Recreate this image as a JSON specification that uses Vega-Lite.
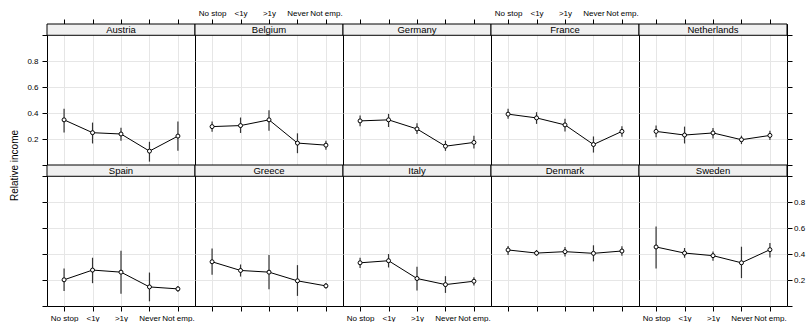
{
  "$schema": "https://vega.github.io/schema/vega-lite/v6.json",
  "padding": {"left": 8, "top": 8, "right": 0, "bottom": 0},
  "background": "white",
  "datasets": {
    "d": [
      {"country": "Austria", "cat": "No stop", "val": 0.348, "lo": 0.251, "hi": 0.433},
      {"country": "Austria", "cat": "<1y", "val": 0.249, "lo": 0.166, "hi": 0.327},
      {"country": "Austria", "cat": ">1y", "val": 0.239, "lo": 0.187, "hi": 0.288},
      {"country": "Austria", "cat": "Never", "val": 0.107, "lo": 0.026, "hi": 0.179},
      {"country": "Austria", "cat": "Not emp.", "val": 0.223, "lo": 0.109, "hi": 0.335},
      {"country": "Belgium", "cat": "No stop", "val": 0.296, "lo": 0.257, "hi": 0.335},
      {"country": "Belgium", "cat": "<1y", "val": 0.304, "lo": 0.247, "hi": 0.366},
      {"country": "Belgium", "cat": ">1y", "val": 0.348, "lo": 0.265, "hi": 0.423},
      {"country": "Belgium", "cat": "Never", "val": 0.169, "lo": 0.091, "hi": 0.244},
      {"country": "Belgium", "cat": "Not emp.", "val": 0.153, "lo": 0.117, "hi": 0.187},
      {"country": "Germany", "cat": "No stop", "val": 0.340, "lo": 0.298, "hi": 0.381},
      {"country": "Germany", "cat": "<1y", "val": 0.348, "lo": 0.293, "hi": 0.394},
      {"country": "Germany", "cat": ">1y", "val": 0.278, "lo": 0.239, "hi": 0.322},
      {"country": "Germany", "cat": "Never", "val": 0.145, "lo": 0.109, "hi": 0.187},
      {"country": "Germany", "cat": "Not emp.", "val": 0.174, "lo": 0.127, "hi": 0.226},
      {"country": "France", "cat": "No stop", "val": 0.392, "lo": 0.356, "hi": 0.433},
      {"country": "France", "cat": "<1y", "val": 0.363, "lo": 0.317, "hi": 0.407},
      {"country": "France", "cat": ">1y", "val": 0.309, "lo": 0.259, "hi": 0.356},
      {"country": "France", "cat": "Never", "val": 0.158, "lo": 0.096, "hi": 0.220},
      {"country": "France", "cat": "Not emp.", "val": 0.259, "lo": 0.218, "hi": 0.298},
      {"country": "Netherlands", "cat": "No stop", "val": 0.259, "lo": 0.213, "hi": 0.304},
      {"country": "Netherlands", "cat": "<1y", "val": 0.231, "lo": 0.166, "hi": 0.296},
      {"country": "Netherlands", "cat": ">1y", "val": 0.247, "lo": 0.205, "hi": 0.286},
      {"country": "Netherlands", "cat": "Never", "val": 0.195, "lo": 0.161, "hi": 0.226},
      {"country": "Netherlands", "cat": "Not emp.", "val": 0.228, "lo": 0.192, "hi": 0.265},
      {"country": "Spain", "cat": "No stop", "val": 0.202, "lo": 0.116, "hi": 0.289},
      {"country": "Spain", "cat": "<1y", "val": 0.277, "lo": 0.176, "hi": 0.372},
      {"country": "Spain", "cat": ">1y", "val": 0.261, "lo": 0.095, "hi": 0.426},
      {"country": "Spain", "cat": "Never", "val": 0.147, "lo": 0.036, "hi": 0.258},
      {"country": "Spain", "cat": "Not emp.", "val": 0.132, "lo": 0.109, "hi": 0.155},
      {"country": "Greece", "cat": "No stop", "val": 0.341, "lo": 0.240, "hi": 0.444},
      {"country": "Greece", "cat": "<1y", "val": 0.274, "lo": 0.227, "hi": 0.320},
      {"country": "Greece", "cat": ">1y", "val": 0.261, "lo": 0.129, "hi": 0.393},
      {"country": "Greece", "cat": "Never", "val": 0.194, "lo": 0.078, "hi": 0.315},
      {"country": "Greece", "cat": "Not emp.", "val": 0.155, "lo": 0.134, "hi": 0.178},
      {"country": "Italy", "cat": "No stop", "val": 0.333, "lo": 0.292, "hi": 0.372},
      {"country": "Italy", "cat": "<1y", "val": 0.349, "lo": 0.297, "hi": 0.401},
      {"country": "Italy", "cat": ">1y", "val": 0.212, "lo": 0.119, "hi": 0.302},
      {"country": "Italy", "cat": "Never", "val": 0.165, "lo": 0.101, "hi": 0.230},
      {"country": "Italy", "cat": "Not emp.", "val": 0.191, "lo": 0.158, "hi": 0.222},
      {"country": "Denmark", "cat": "No stop", "val": 0.432, "lo": 0.393, "hi": 0.463},
      {"country": "Denmark", "cat": "<1y", "val": 0.408, "lo": 0.388, "hi": 0.432},
      {"country": "Denmark", "cat": ">1y", "val": 0.419, "lo": 0.382, "hi": 0.455},
      {"country": "Denmark", "cat": "Never", "val": 0.406, "lo": 0.344, "hi": 0.468},
      {"country": "Denmark", "cat": "Not emp.", "val": 0.424, "lo": 0.388, "hi": 0.460},
      {"country": "Sweden", "cat": "No stop", "val": 0.455, "lo": 0.289, "hi": 0.612},
      {"country": "Sweden", "cat": "<1y", "val": 0.408, "lo": 0.372, "hi": 0.447},
      {"country": "Sweden", "cat": ">1y", "val": 0.388, "lo": 0.349, "hi": 0.421},
      {"country": "Sweden", "cat": "Never", "val": 0.333, "lo": 0.215, "hi": 0.457},
      {"country": "Sweden", "cat": "Not emp.", "val": 0.434, "lo": 0.374, "hi": 0.486}
    ]
  },
  "concat": [
    {
      "width": 148, "height": 141,
      "data": {"name": "d"},
      "transform": [{"filter": "datum.country == 'Austria'"}],
      "layer": [
        {
          "encoding": {
            "x": {"field": "cat", "type": "ordinal", "scale": {"type": "point", "domain": ["No stop", "<1y", ">1y", "Never", "Not emp."], "padding": 0.6}, "axis": {"orient": "top", "grid": true, "labels": false, "title": null}},
            "y": {"field": "val", "type": "quantitative", "scale": {"domain": [0, 1.087], "nice": false, "zero": false}, "axis": {"orient": "left", "values": [0, 0.2, 0.4, 0.6, 0.8, 1], "format": ".1f", "labelExpr": "datum.value > 0.1 && datum.value < 0.9 ? datum.label : ''", "gridOpacity": {"condition": {"test": "datum.value > 0.1 && datum.value < 0.9", "value": 1}, "value": 0}, "labelPadding": 4, "title": "Relative income", "titleX": -33, "titleY": 141, "titleAngle": -90, "titleBaseline": "middle", "titleAlign": "center", "titleFontSize": 10, "titleFontWeight": "normal", "titleColor": "black", "titleFont": "Liberation Sans"}}
          },
          "layer": [
            {"mark": {"type": "rule", "color": "#333333", "strokeWidth": 1.2}, "encoding": {"y": {"field": "lo", "type": "quantitative", "scale": {"domain": [0, 1.087], "nice": false, "zero": false}, "axis": {"orient": "left", "values": [0, 0.2, 0.4, 0.6, 0.8, 1], "format": ".1f", "labelExpr": "datum.value > 0.1 && datum.value < 0.9 ? datum.label : ''", "gridOpacity": {"condition": {"test": "datum.value > 0.1 && datum.value < 0.9", "value": 1}, "value": 0}, "labelPadding": 4, "title": "Relative income", "titleX": -33, "titleY": 141, "titleAngle": -90, "titleBaseline": "middle", "titleAlign": "center", "titleFontSize": 10, "titleFontWeight": "normal", "titleColor": "black", "titleFont": "Liberation Sans"}}, "y2": {"field": "hi"}}},
            {"mark": {"type": "line", "color": "black", "strokeWidth": 1}},
            {"mark": {"type": "point", "shape": "circle", "filled": true, "fill": "white", "stroke": "black", "strokeWidth": 1, "size": 16, "opacity": 1}}
          ]
        },
        {"transform": [{"filter": "datum.cat == 'No stop'"}], "mark": {"type": "rect", "fill": "#f0f0f0", "stroke": "black", "strokeWidth": 1}, "encoding": {"y": {"datum": 1, "type": "quantitative", "scale": {"domain": [0, 1.087], "nice": false, "zero": false}, "axis": {"orient": "left", "values": [0, 0.2, 0.4, 0.6, 0.8, 1], "format": ".1f", "labelExpr": "datum.value > 0.1 && datum.value < 0.9 ? datum.label : ''", "gridOpacity": {"condition": {"test": "datum.value > 0.1 && datum.value < 0.9", "value": 1}, "value": 0}, "labelPadding": 4, "title": "Relative income", "titleX": -33, "titleY": 141, "titleAngle": -90, "titleBaseline": "middle", "titleAlign": "center", "titleFontSize": 10, "titleFontWeight": "normal", "titleColor": "black", "titleFont": "Liberation Sans"}}, "y2": {"datum": 1.087}}},
        {"transform": [{"filter": "datum.cat == 'No stop'"}], "mark": {"type": "text", "fontSize": 9.5, "color": "black", "baseline": "middle", "font": "Liberation Sans"}, "encoding": {"y": {"datum": 1.0435, "type": "quantitative", "scale": {"domain": [0, 1.087], "nice": false, "zero": false}, "axis": {"orient": "left", "values": [0, 0.2, 0.4, 0.6, 0.8, 1], "format": ".1f", "labelExpr": "datum.value > 0.1 && datum.value < 0.9 ? datum.label : ''", "gridOpacity": {"condition": {"test": "datum.value > 0.1 && datum.value < 0.9", "value": 1}, "value": 0}, "labelPadding": 4, "title": "Relative income", "titleX": -33, "titleY": 141, "titleAngle": -90, "titleBaseline": "middle", "titleAlign": "center", "titleFontSize": 10, "titleFontWeight": "normal", "titleColor": "black", "titleFont": "Liberation Sans"}}, "text": {"field": "country"}}}
      ]
    },
    {
      "width": 148, "height": 141,
      "data": {"name": "d"},
      "transform": [{"filter": "datum.country == 'Belgium'"}],
      "layer": [
        {
          "encoding": {
            "x": {"field": "cat", "type": "ordinal", "scale": {"type": "point", "domain": ["No stop", "<1y", ">1y", "Never", "Not emp."], "padding": 0.6}, "axis": {"orient": "top", "grid": true, "labels": true, "labelPadding": 2, "title": null}},
            "y": {"field": "val", "type": "quantitative", "scale": {"domain": [0, 1.087], "nice": false, "zero": false}, "axis": {"orient": "left", "values": [0, 0.2, 0.4, 0.6, 0.8, 1], "ticks": false, "labels": false, "gridOpacity": {"condition": {"test": "datum.value > 0.1 && datum.value < 0.9", "value": 1}, "value": 0}, "title": null}}
          },
          "layer": [
            {"mark": {"type": "rule", "color": "#333333", "strokeWidth": 1.2}, "encoding": {"y": {"field": "lo", "type": "quantitative", "scale": {"domain": [0, 1.087], "nice": false, "zero": false}, "axis": {"orient": "left", "values": [0, 0.2, 0.4, 0.6, 0.8, 1], "ticks": false, "labels": false, "gridOpacity": {"condition": {"test": "datum.value > 0.1 && datum.value < 0.9", "value": 1}, "value": 0}, "title": null}}, "y2": {"field": "hi"}}},
            {"mark": {"type": "line", "color": "black", "strokeWidth": 1}},
            {"mark": {"type": "point", "shape": "circle", "filled": true, "fill": "white", "stroke": "black", "strokeWidth": 1, "size": 16, "opacity": 1}}
          ]
        },
        {"transform": [{"filter": "datum.cat == 'No stop'"}], "mark": {"type": "rect", "fill": "#f0f0f0", "stroke": "black", "strokeWidth": 1}, "encoding": {"y": {"datum": 1, "type": "quantitative", "scale": {"domain": [0, 1.087], "nice": false, "zero": false}, "axis": {"orient": "left", "values": [0, 0.2, 0.4, 0.6, 0.8, 1], "ticks": false, "labels": false, "gridOpacity": {"condition": {"test": "datum.value > 0.1 && datum.value < 0.9", "value": 1}, "value": 0}, "title": null}}, "y2": {"datum": 1.087}}},
        {"transform": [{"filter": "datum.cat == 'No stop'"}], "mark": {"type": "text", "fontSize": 9.5, "color": "black", "baseline": "middle", "font": "Liberation Sans"}, "encoding": {"y": {"datum": 1.0435, "type": "quantitative", "scale": {"domain": [0, 1.087], "nice": false, "zero": false}, "axis": {"orient": "left", "values": [0, 0.2, 0.4, 0.6, 0.8, 1], "ticks": false, "labels": false, "gridOpacity": {"condition": {"test": "datum.value > 0.1 && datum.value < 0.9", "value": 1}, "value": 0}, "title": null}}, "text": {"field": "country"}}}
      ]
    },
    {
      "width": 148, "height": 141,
      "data": {"name": "d"},
      "transform": [{"filter": "datum.country == 'Germany'"}],
      "layer": [
        {
          "encoding": {
            "x": {"field": "cat", "type": "ordinal", "scale": {"type": "point", "domain": ["No stop", "<1y", ">1y", "Never", "Not emp."], "padding": 0.6}, "axis": {"orient": "top", "grid": true, "labels": false, "title": null}},
            "y": {"field": "val", "type": "quantitative", "scale": {"domain": [0, 1.087], "nice": false, "zero": false}, "axis": {"orient": "left", "values": [0, 0.2, 0.4, 0.6, 0.8, 1], "ticks": false, "labels": false, "gridOpacity": {"condition": {"test": "datum.value > 0.1 && datum.value < 0.9", "value": 1}, "value": 0}, "title": null}}
          },
          "layer": [
            {"mark": {"type": "rule", "color": "#333333", "strokeWidth": 1.2}, "encoding": {"y": {"field": "lo", "type": "quantitative", "scale": {"domain": [0, 1.087], "nice": false, "zero": false}, "axis": {"orient": "left", "values": [0, 0.2, 0.4, 0.6, 0.8, 1], "ticks": false, "labels": false, "gridOpacity": {"condition": {"test": "datum.value > 0.1 && datum.value < 0.9", "value": 1}, "value": 0}, "title": null}}, "y2": {"field": "hi"}}},
            {"mark": {"type": "line", "color": "black", "strokeWidth": 1}},
            {"mark": {"type": "point", "shape": "circle", "filled": true, "fill": "white", "stroke": "black", "strokeWidth": 1, "size": 16, "opacity": 1}}
          ]
        },
        {"transform": [{"filter": "datum.cat == 'No stop'"}], "mark": {"type": "rect", "fill": "#f0f0f0", "stroke": "black", "strokeWidth": 1}, "encoding": {"y": {"datum": 1, "type": "quantitative", "scale": {"domain": [0, 1.087], "nice": false, "zero": false}, "axis": {"orient": "left", "values": [0, 0.2, 0.4, 0.6, 0.8, 1], "ticks": false, "labels": false, "gridOpacity": {"condition": {"test": "datum.value > 0.1 && datum.value < 0.9", "value": 1}, "value": 0}, "title": null}}, "y2": {"datum": 1.087}}},
        {"transform": [{"filter": "datum.cat == 'No stop'"}], "mark": {"type": "text", "fontSize": 9.5, "color": "black", "baseline": "middle", "font": "Liberation Sans"}, "encoding": {"y": {"datum": 1.0435, "type": "quantitative", "scale": {"domain": [0, 1.087], "nice": false, "zero": false}, "axis": {"orient": "left", "values": [0, 0.2, 0.4, 0.6, 0.8, 1], "ticks": false, "labels": false, "gridOpacity": {"condition": {"test": "datum.value > 0.1 && datum.value < 0.9", "value": 1}, "value": 0}, "title": null}}, "text": {"field": "country"}}}
      ]
    },
    {
      "width": 148, "height": 141,
      "data": {"name": "d"},
      "transform": [{"filter": "datum.country == 'France'"}],
      "layer": [
        {
          "encoding": {
            "x": {"field": "cat", "type": "ordinal", "scale": {"type": "point", "domain": ["No stop", "<1y", ">1y", "Never", "Not emp."], "padding": 0.6}, "axis": {"orient": "top", "grid": true, "labels": true, "labelPadding": 2, "title": null}},
            "y": {"field": "val", "type": "quantitative", "scale": {"domain": [0, 1.087], "nice": false, "zero": false}, "axis": {"orient": "left", "values": [0, 0.2, 0.4, 0.6, 0.8, 1], "ticks": false, "labels": false, "gridOpacity": {"condition": {"test": "datum.value > 0.1 && datum.value < 0.9", "value": 1}, "value": 0}, "title": null}}
          },
          "layer": [
            {"mark": {"type": "rule", "color": "#333333", "strokeWidth": 1.2}, "encoding": {"y": {"field": "lo", "type": "quantitative", "scale": {"domain": [0, 1.087], "nice": false, "zero": false}, "axis": {"orient": "left", "values": [0, 0.2, 0.4, 0.6, 0.8, 1], "ticks": false, "labels": false, "gridOpacity": {"condition": {"test": "datum.value > 0.1 && datum.value < 0.9", "value": 1}, "value": 0}, "title": null}}, "y2": {"field": "hi"}}},
            {"mark": {"type": "line", "color": "black", "strokeWidth": 1}},
            {"mark": {"type": "point", "shape": "circle", "filled": true, "fill": "white", "stroke": "black", "strokeWidth": 1, "size": 16, "opacity": 1}}
          ]
        },
        {"transform": [{"filter": "datum.cat == 'No stop'"}], "mark": {"type": "rect", "fill": "#f0f0f0", "stroke": "black", "strokeWidth": 1}, "encoding": {"y": {"datum": 1, "type": "quantitative", "scale": {"domain": [0, 1.087], "nice": false, "zero": false}, "axis": {"orient": "left", "values": [0, 0.2, 0.4, 0.6, 0.8, 1], "ticks": false, "labels": false, "gridOpacity": {"condition": {"test": "datum.value > 0.1 && datum.value < 0.9", "value": 1}, "value": 0}, "title": null}}, "y2": {"datum": 1.087}}},
        {"transform": [{"filter": "datum.cat == 'No stop'"}], "mark": {"type": "text", "fontSize": 9.5, "color": "black", "baseline": "middle", "font": "Liberation Sans"}, "encoding": {"y": {"datum": 1.0435, "type": "quantitative", "scale": {"domain": [0, 1.087], "nice": false, "zero": false}, "axis": {"orient": "left", "values": [0, 0.2, 0.4, 0.6, 0.8, 1], "ticks": false, "labels": false, "gridOpacity": {"condition": {"test": "datum.value > 0.1 && datum.value < 0.9", "value": 1}, "value": 0}, "title": null}}, "text": {"field": "country"}}}
      ]
    },
    {
      "width": 148, "height": 141,
      "data": {"name": "d"},
      "transform": [{"filter": "datum.country == 'Netherlands'"}],
      "layer": [
        {
          "encoding": {
            "x": {"field": "cat", "type": "ordinal", "scale": {"type": "point", "domain": ["No stop", "<1y", ">1y", "Never", "Not emp."], "padding": 0.6}, "axis": {"orient": "top", "grid": true, "labels": false, "title": null}},
            "y": {"field": "val", "type": "quantitative", "scale": {"domain": [0, 1.087], "nice": false, "zero": false}, "axis": {"orient": "right", "values": [0, 0.2, 0.4, 0.6, 0.8, 1], "labels": false, "gridOpacity": {"condition": {"test": "datum.value > 0.1 && datum.value < 0.9", "value": 1}, "value": 0}, "title": null}}
          },
          "layer": [
            {"mark": {"type": "rule", "color": "#333333", "strokeWidth": 1.2}, "encoding": {"y": {"field": "lo", "type": "quantitative", "scale": {"domain": [0, 1.087], "nice": false, "zero": false}, "axis": {"orient": "right", "values": [0, 0.2, 0.4, 0.6, 0.8, 1], "labels": false, "gridOpacity": {"condition": {"test": "datum.value > 0.1 && datum.value < 0.9", "value": 1}, "value": 0}, "title": null}}, "y2": {"field": "hi"}}},
            {"mark": {"type": "line", "color": "black", "strokeWidth": 1}},
            {"mark": {"type": "point", "shape": "circle", "filled": true, "fill": "white", "stroke": "black", "strokeWidth": 1, "size": 16, "opacity": 1}}
          ]
        },
        {"transform": [{"filter": "datum.cat == 'No stop'"}], "mark": {"type": "rect", "fill": "#f0f0f0", "stroke": "black", "strokeWidth": 1}, "encoding": {"y": {"datum": 1, "type": "quantitative", "scale": {"domain": [0, 1.087], "nice": false, "zero": false}, "axis": {"orient": "right", "values": [0, 0.2, 0.4, 0.6, 0.8, 1], "labels": false, "gridOpacity": {"condition": {"test": "datum.value > 0.1 && datum.value < 0.9", "value": 1}, "value": 0}, "title": null}}, "y2": {"datum": 1.087}}},
        {"transform": [{"filter": "datum.cat == 'No stop'"}], "mark": {"type": "text", "fontSize": 9.5, "color": "black", "baseline": "middle", "font": "Liberation Sans"}, "encoding": {"y": {"datum": 1.0435, "type": "quantitative", "scale": {"domain": [0, 1.087], "nice": false, "zero": false}, "axis": {"orient": "right", "values": [0, 0.2, 0.4, 0.6, 0.8, 1], "labels": false, "gridOpacity": {"condition": {"test": "datum.value > 0.1 && datum.value < 0.9", "value": 1}, "value": 0}, "title": null}}, "text": {"field": "country"}}}
      ]
    },
    {
      "width": 148, "height": 141,
      "data": {"name": "d"},
      "transform": [{"filter": "datum.country == 'Spain'"}],
      "layer": [
        {
          "encoding": {
            "x": {"field": "cat", "type": "ordinal", "scale": {"type": "point", "domain": ["No stop", "<1y", ">1y", "Never", "Not emp."], "padding": 0.6}, "axis": {"orient": "bottom", "grid": true, "labels": true, "labelPadding": 3, "title": null}},
            "y": {"field": "val", "type": "quantitative", "scale": {"domain": [0, 1.087], "nice": false, "zero": false}, "axis": {"orient": "left", "values": [0, 0.2, 0.4, 0.6, 0.8, 1], "labels": false, "gridOpacity": {"condition": {"test": "datum.value > 0.1 && datum.value < 0.9", "value": 1}, "value": 0}, "title": null}}
          },
          "layer": [
            {"mark": {"type": "rule", "color": "#333333", "strokeWidth": 1.2}, "encoding": {"y": {"field": "lo", "type": "quantitative", "scale": {"domain": [0, 1.087], "nice": false, "zero": false}, "axis": {"orient": "left", "values": [0, 0.2, 0.4, 0.6, 0.8, 1], "labels": false, "gridOpacity": {"condition": {"test": "datum.value > 0.1 && datum.value < 0.9", "value": 1}, "value": 0}, "title": null}}, "y2": {"field": "hi"}}},
            {"mark": {"type": "line", "color": "black", "strokeWidth": 1}},
            {"mark": {"type": "point", "shape": "circle", "filled": true, "fill": "white", "stroke": "black", "strokeWidth": 1, "size": 16, "opacity": 1}}
          ]
        },
        {"transform": [{"filter": "datum.cat == 'No stop'"}], "mark": {"type": "rect", "fill": "#f0f0f0", "stroke": "black", "strokeWidth": 1}, "encoding": {"y": {"datum": 1, "type": "quantitative", "scale": {"domain": [0, 1.087], "nice": false, "zero": false}, "axis": {"orient": "left", "values": [0, 0.2, 0.4, 0.6, 0.8, 1], "labels": false, "gridOpacity": {"condition": {"test": "datum.value > 0.1 && datum.value < 0.9", "value": 1}, "value": 0}, "title": null}}, "y2": {"datum": 1.087}}},
        {"transform": [{"filter": "datum.cat == 'No stop'"}], "mark": {"type": "text", "fontSize": 9.5, "color": "black", "baseline": "middle", "font": "Liberation Sans"}, "encoding": {"y": {"datum": 1.0435, "type": "quantitative", "scale": {"domain": [0, 1.087], "nice": false, "zero": false}, "axis": {"orient": "left", "values": [0, 0.2, 0.4, 0.6, 0.8, 1], "labels": false, "gridOpacity": {"condition": {"test": "datum.value > 0.1 && datum.value < 0.9", "value": 1}, "value": 0}, "title": null}}, "text": {"field": "country"}}}
      ]
    },
    {
      "width": 148, "height": 141,
      "data": {"name": "d"},
      "transform": [{"filter": "datum.country == 'Greece'"}],
      "layer": [
        {
          "encoding": {
            "x": {"field": "cat", "type": "ordinal", "scale": {"type": "point", "domain": ["No stop", "<1y", ">1y", "Never", "Not emp."], "padding": 0.6}, "axis": {"orient": "bottom", "grid": true, "labels": false, "title": null}},
            "y": {"field": "val", "type": "quantitative", "scale": {"domain": [0, 1.087], "nice": false, "zero": false}, "axis": {"orient": "left", "values": [0, 0.2, 0.4, 0.6, 0.8, 1], "ticks": false, "labels": false, "gridOpacity": {"condition": {"test": "datum.value > 0.1 && datum.value < 0.9", "value": 1}, "value": 0}, "title": null}}
          },
          "layer": [
            {"mark": {"type": "rule", "color": "#333333", "strokeWidth": 1.2}, "encoding": {"y": {"field": "lo", "type": "quantitative", "scale": {"domain": [0, 1.087], "nice": false, "zero": false}, "axis": {"orient": "left", "values": [0, 0.2, 0.4, 0.6, 0.8, 1], "ticks": false, "labels": false, "gridOpacity": {"condition": {"test": "datum.value > 0.1 && datum.value < 0.9", "value": 1}, "value": 0}, "title": null}}, "y2": {"field": "hi"}}},
            {"mark": {"type": "line", "color": "black", "strokeWidth": 1}},
            {"mark": {"type": "point", "shape": "circle", "filled": true, "fill": "white", "stroke": "black", "strokeWidth": 1, "size": 16, "opacity": 1}}
          ]
        },
        {"transform": [{"filter": "datum.cat == 'No stop'"}], "mark": {"type": "rect", "fill": "#f0f0f0", "stroke": "black", "strokeWidth": 1}, "encoding": {"y": {"datum": 1, "type": "quantitative", "scale": {"domain": [0, 1.087], "nice": false, "zero": false}, "axis": {"orient": "left", "values": [0, 0.2, 0.4, 0.6, 0.8, 1], "ticks": false, "labels": false, "gridOpacity": {"condition": {"test": "datum.value > 0.1 && datum.value < 0.9", "value": 1}, "value": 0}, "title": null}}, "y2": {"datum": 1.087}}},
        {"transform": [{"filter": "datum.cat == 'No stop'"}], "mark": {"type": "text", "fontSize": 9.5, "color": "black", "baseline": "middle", "font": "Liberation Sans"}, "encoding": {"y": {"datum": 1.0435, "type": "quantitative", "scale": {"domain": [0, 1.087], "nice": false, "zero": false}, "axis": {"orient": "left", "values": [0, 0.2, 0.4, 0.6, 0.8, 1], "ticks": false, "labels": false, "gridOpacity": {"condition": {"test": "datum.value > 0.1 && datum.value < 0.9", "value": 1}, "value": 0}, "title": null}}, "text": {"field": "country"}}}
      ]
    },
    {
      "width": 148, "height": 141,
      "data": {"name": "d"},
      "transform": [{"filter": "datum.country == 'Italy'"}],
      "layer": [
        {
          "encoding": {
            "x": {"field": "cat", "type": "ordinal", "scale": {"type": "point", "domain": ["No stop", "<1y", ">1y", "Never", "Not emp."], "padding": 0.6}, "axis": {"orient": "bottom", "grid": true, "labels": true, "labelPadding": 3, "title": null}},
            "y": {"field": "val", "type": "quantitative", "scale": {"domain": [0, 1.087], "nice": false, "zero": false}, "axis": {"orient": "left", "values": [0, 0.2, 0.4, 0.6, 0.8, 1], "ticks": false, "labels": false, "gridOpacity": {"condition": {"test": "datum.value > 0.1 && datum.value < 0.9", "value": 1}, "value": 0}, "title": null}}
          },
          "layer": [
            {"mark": {"type": "rule", "color": "#333333", "strokeWidth": 1.2}, "encoding": {"y": {"field": "lo", "type": "quantitative", "scale": {"domain": [0, 1.087], "nice": false, "zero": false}, "axis": {"orient": "left", "values": [0, 0.2, 0.4, 0.6, 0.8, 1], "ticks": false, "labels": false, "gridOpacity": {"condition": {"test": "datum.value > 0.1 && datum.value < 0.9", "value": 1}, "value": 0}, "title": null}}, "y2": {"field": "hi"}}},
            {"mark": {"type": "line", "color": "black", "strokeWidth": 1}},
            {"mark": {"type": "point", "shape": "circle", "filled": true, "fill": "white", "stroke": "black", "strokeWidth": 1, "size": 16, "opacity": 1}}
          ]
        },
        {"transform": [{"filter": "datum.cat == 'No stop'"}], "mark": {"type": "rect", "fill": "#f0f0f0", "stroke": "black", "strokeWidth": 1}, "encoding": {"y": {"datum": 1, "type": "quantitative", "scale": {"domain": [0, 1.087], "nice": false, "zero": false}, "axis": {"orient": "left", "values": [0, 0.2, 0.4, 0.6, 0.8, 1], "ticks": false, "labels": false, "gridOpacity": {"condition": {"test": "datum.value > 0.1 && datum.value < 0.9", "value": 1}, "value": 0}, "title": null}}, "y2": {"datum": 1.087}}},
        {"transform": [{"filter": "datum.cat == 'No stop'"}], "mark": {"type": "text", "fontSize": 9.5, "color": "black", "baseline": "middle", "font": "Liberation Sans"}, "encoding": {"y": {"datum": 1.0435, "type": "quantitative", "scale": {"domain": [0, 1.087], "nice": false, "zero": false}, "axis": {"orient": "left", "values": [0, 0.2, 0.4, 0.6, 0.8, 1], "ticks": false, "labels": false, "gridOpacity": {"condition": {"test": "datum.value > 0.1 && datum.value < 0.9", "value": 1}, "value": 0}, "title": null}}, "text": {"field": "country"}}}
      ]
    },
    {
      "width": 148, "height": 141,
      "data": {"name": "d"},
      "transform": [{"filter": "datum.country == 'Denmark'"}],
      "layer": [
        {
          "encoding": {
            "x": {"field": "cat", "type": "ordinal", "scale": {"type": "point", "domain": ["No stop", "<1y", ">1y", "Never", "Not emp."], "padding": 0.6}, "axis": {"orient": "bottom", "grid": true, "labels": false, "title": null}},
            "y": {"field": "val", "type": "quantitative", "scale": {"domain": [0, 1.087], "nice": false, "zero": false}, "axis": {"orient": "left", "values": [0, 0.2, 0.4, 0.6, 0.8, 1], "ticks": false, "labels": false, "gridOpacity": {"condition": {"test": "datum.value > 0.1 && datum.value < 0.9", "value": 1}, "value": 0}, "title": null}}
          },
          "layer": [
            {"mark": {"type": "rule", "color": "#333333", "strokeWidth": 1.2}, "encoding": {"y": {"field": "lo", "type": "quantitative", "scale": {"domain": [0, 1.087], "nice": false, "zero": false}, "axis": {"orient": "left", "values": [0, 0.2, 0.4, 0.6, 0.8, 1], "ticks": false, "labels": false, "gridOpacity": {"condition": {"test": "datum.value > 0.1 && datum.value < 0.9", "value": 1}, "value": 0}, "title": null}}, "y2": {"field": "hi"}}},
            {"mark": {"type": "line", "color": "black", "strokeWidth": 1}},
            {"mark": {"type": "point", "shape": "circle", "filled": true, "fill": "white", "stroke": "black", "strokeWidth": 1, "size": 16, "opacity": 1}}
          ]
        },
        {"transform": [{"filter": "datum.cat == 'No stop'"}], "mark": {"type": "rect", "fill": "#f0f0f0", "stroke": "black", "strokeWidth": 1}, "encoding": {"y": {"datum": 1, "type": "quantitative", "scale": {"domain": [0, 1.087], "nice": false, "zero": false}, "axis": {"orient": "left", "values": [0, 0.2, 0.4, 0.6, 0.8, 1], "ticks": false, "labels": false, "gridOpacity": {"condition": {"test": "datum.value > 0.1 && datum.value < 0.9", "value": 1}, "value": 0}, "title": null}}, "y2": {"datum": 1.087}}},
        {"transform": [{"filter": "datum.cat == 'No stop'"}], "mark": {"type": "text", "fontSize": 9.5, "color": "black", "baseline": "middle", "font": "Liberation Sans"}, "encoding": {"y": {"datum": 1.0435, "type": "quantitative", "scale": {"domain": [0, 1.087], "nice": false, "zero": false}, "axis": {"orient": "left", "values": [0, 0.2, 0.4, 0.6, 0.8, 1], "ticks": false, "labels": false, "gridOpacity": {"condition": {"test": "datum.value > 0.1 && datum.value < 0.9", "value": 1}, "value": 0}, "title": null}}, "text": {"field": "country"}}}
      ]
    },
    {
      "width": 148, "height": 141,
      "data": {"name": "d"},
      "transform": [{"filter": "datum.country == 'Sweden'"}],
      "layer": [
        {
          "encoding": {
            "x": {"field": "cat", "type": "ordinal", "scale": {"type": "point", "domain": ["No stop", "<1y", ">1y", "Never", "Not emp."], "padding": 0.6}, "axis": {"orient": "bottom", "grid": true, "labels": true, "labelPadding": 3, "title": null}},
            "y": {"field": "val", "type": "quantitative", "scale": {"domain": [0, 1.087], "nice": false, "zero": false}, "axis": {"orient": "right", "values": [0, 0.2, 0.4, 0.6, 0.8, 1], "format": ".1f", "labelExpr": "datum.value > 0.1 && datum.value < 0.9 ? datum.label : ''", "labelPadding": 1.5, "gridOpacity": {"condition": {"test": "datum.value > 0.1 && datum.value < 0.9", "value": 1}, "value": 0}, "title": null}}
          },
          "layer": [
            {"mark": {"type": "rule", "color": "#333333", "strokeWidth": 1.2}, "encoding": {"y": {"field": "lo", "type": "quantitative", "scale": {"domain": [0, 1.087], "nice": false, "zero": false}, "axis": {"orient": "right", "values": [0, 0.2, 0.4, 0.6, 0.8, 1], "format": ".1f", "labelExpr": "datum.value > 0.1 && datum.value < 0.9 ? datum.label : ''", "labelPadding": 1.5, "gridOpacity": {"condition": {"test": "datum.value > 0.1 && datum.value < 0.9", "value": 1}, "value": 0}, "title": null}}, "y2": {"field": "hi"}}},
            {"mark": {"type": "line", "color": "black", "strokeWidth": 1}},
            {"mark": {"type": "point", "shape": "circle", "filled": true, "fill": "white", "stroke": "black", "strokeWidth": 1, "size": 16, "opacity": 1}}
          ]
        },
        {"transform": [{"filter": "datum.cat == 'No stop'"}], "mark": {"type": "rect", "fill": "#f0f0f0", "stroke": "black", "strokeWidth": 1}, "encoding": {"y": {"datum": 1, "type": "quantitative", "scale": {"domain": [0, 1.087], "nice": false, "zero": false}, "axis": {"orient": "right", "values": [0, 0.2, 0.4, 0.6, 0.8, 1], "format": ".1f", "labelExpr": "datum.value > 0.1 && datum.value < 0.9 ? datum.label : ''", "labelPadding": 1.5, "gridOpacity": {"condition": {"test": "datum.value > 0.1 && datum.value < 0.9", "value": 1}, "value": 0}, "title": null}}, "y2": {"datum": 1.087}}},
        {"transform": [{"filter": "datum.cat == 'No stop'"}], "mark": {"type": "text", "fontSize": 9.5, "color": "black", "baseline": "middle", "font": "Liberation Sans"}, "encoding": {"y": {"datum": 1.0435, "type": "quantitative", "scale": {"domain": [0, 1.087], "nice": false, "zero": false}, "axis": {"orient": "right", "values": [0, 0.2, 0.4, 0.6, 0.8, 1], "format": ".1f", "labelExpr": "datum.value > 0.1 && datum.value < 0.9 ? datum.label : ''", "labelPadding": 1.5, "gridOpacity": {"condition": {"test": "datum.value > 0.1 && datum.value < 0.9", "value": 1}, "value": 0}, "title": null}}, "text": {"field": "country"}}}
      ]
    }
  ],
  "columns": 5,
  "spacing": 0,
  "bounds": "flush",
  "config": {
    "font": "Liberation Sans",
    "view": {"stroke": "black", "strokeWidth": 1},
    "axis": {"domain": false, "tickColor": "black", "tickSize": 5, "tickWidth": 1, "labelFont": "Liberation Sans", "labelFontSize": 8, "labelColor": "black", "labelAngle": 0, "labelOverlap": false, "gridColor": "#e6e6e6", "gridWidth": 1}
  }
}
